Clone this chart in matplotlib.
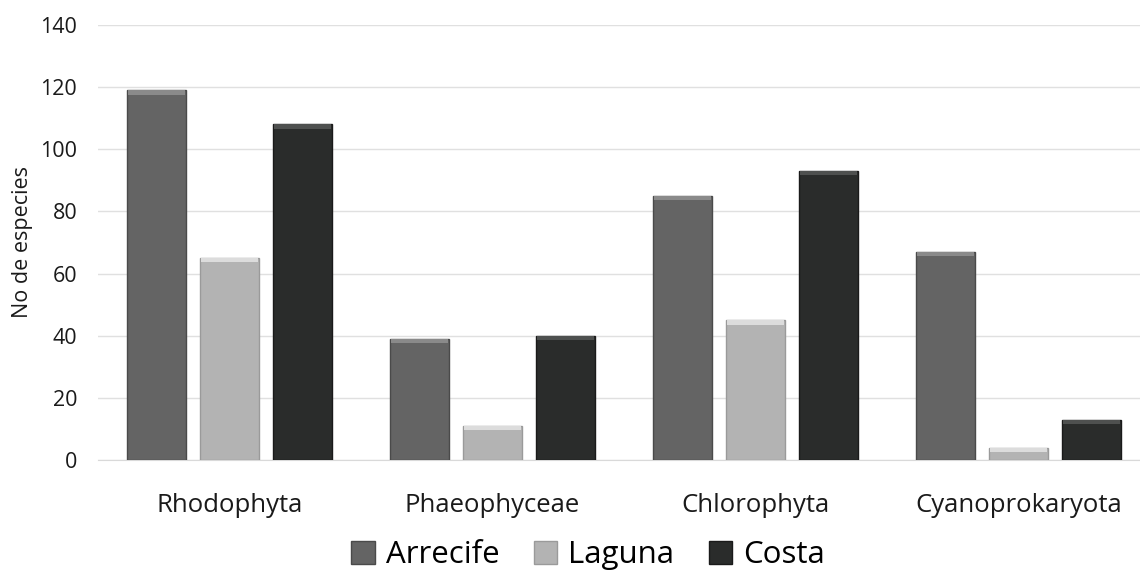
import matplotlib
matplotlib.use("Agg")
import matplotlib.pyplot as plt
import numpy as np
from matplotlib.patches import Patch

categories = ["Rhodophyta", "Phaeophyceae", "Chlorophyta", "Cyanoprokaryota"]
series_names = ["Arrecife", "Laguna", "Costa"]
arrecife = [119, 39, 85, 67]
laguna = [65, 11, 45, 4]
costa = [108, 40, 93, 13]
yticks = [0, 20, 40, 60, 80, 100, 120, 140]

colors = ["#646464", "#b3b3b3", "#2a2c2b"]
tops = ["#8a8a8a", "#dcdcdc", "#4e504f"]
edges = ["#4a4a4a", "#9a9a9a", "#1a1a1a"]

plt.rcParams['font.family'] = ['Open Sans', 'DejaVu Sans']

fig = plt.figure(figsize=(11.4, 5.71), dpi=100)
ax = fig.add_axes([98/1140, (571-460)/571, 1052/1140, 435/571])

x = np.arange(len(categories))
w = 0.224
off = 0.278
for i, (vals, c, t, e) in enumerate(zip([arrecife, laguna, costa], colors, tops, edges)):
    pos = x + (i - 1) * off
    ax.bar(pos, vals, width=w, color=c, edgecolor=e, linewidth=1.0, zorder=3)
    vals_arr = np.array(vals, dtype=float)
    hl = np.minimum(vals_arr, 1.4)
    ax.bar(pos, hl, bottom=vals_arr - hl, width=w * 0.96, color=t, linewidth=0, zorder=4)

ax.set_xlim(-0.5, 3.5)
ax.set_ylim(0, 140)
ax.set_yticks(yticks)
ax.set_yticklabels([str(v) for v in yticks], fontsize=15.5, color="#1a1a1a")
ax.set_xticks(x)
ax.set_xticklabels(categories, fontsize=18.5, color="#1a1a1a")
ax.tick_params(axis='both', length=0)
ax.tick_params(axis='x', pad=24)
ax.tick_params(axis='y', pad=15)
ax.yaxis.grid(True, color="#e0e0e0", linewidth=1.0, zorder=0)
ax.set_axisbelow(True)
for s in ["top", "right", "left"]:
    ax.spines[s].set_visible(False)
ax.spines["bottom"].set_color("#d9d9d9")
ax.set_ylabel("No de especies", fontsize=15.5, color="#1a1a1a")
ax.yaxis.set_label_coords(-0.062, 0.5)

handles = [Patch(facecolor=c, edgecolor=e, label=n) for n, c, e in zip(series_names, colors, edges)]
fig.legend(handles=handles, loc="center", bbox_to_anchor=(588/1140, 1 - 555/571), ncol=3,
           frameon=False, fontsize=22.5, handlelength=0.75, handleheight=0.75,
           handletextpad=0.35, columnspacing=1.1, borderaxespad=0)

fig.savefig("out.png", dpi=100)
